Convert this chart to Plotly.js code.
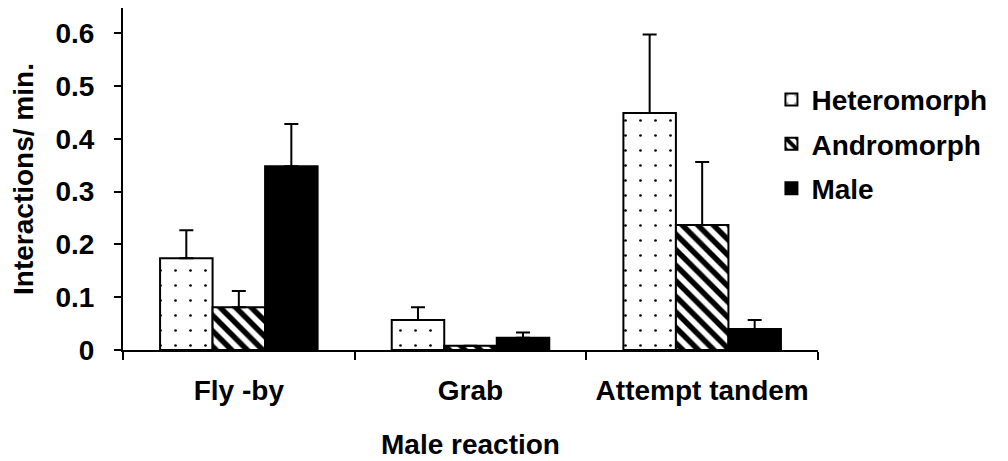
<!DOCTYPE html>
<html><head><meta charset="utf-8">
<script src="https://cdn.plot.ly/plotly-3.0.1.min.js"></script>
<style>html,body{margin:0;padding:0;background:#fff}</style>
</head><body>
<div id="chart" style="width:1008px;height:461px"></div>
<script>
const categories = ["Fly -by", "Grab", "Attempt tandem"];
const heteromorph = [0.174, 0.057, 0.449];
const heteromorphErr = [0.053, 0.024, 0.149];
const andromorph = [0.081, 0.008, 0.237];
const andromorphErr = [0.031, 0.0, 0.119];
const male = [0.348, 0.023, 0.040];
const maleErr = [0.080, 0.010, 0.017];
const yTicks = [0, 0.1, 0.2, 0.3, 0.4, 0.5, 0.6];

function errY(arr) {
  return {type: 'data', symmetric: false, array: arr, arrayminus: arr.map(() => 0),
          color: 'black', thickness: 2, width: 7};
}
const line = {color: 'black', width: 2};
const traces = [
  {type: 'bar', name: 'Heteromorph', legendgroup: 'a', x: categories, y: heteromorph, error_y: errY(heteromorphErr),
   marker: {color: 'white', line: line,
            pattern: {shape: '.', fgcolor: 'black', bgcolor: 'white', size: 15, solidity: 0.025}}},
  {type: 'bar', name: 'Andromorph', legendgroup: 'b', x: categories, y: andromorph, error_y: errY(andromorphErr),
   marker: {color: 'white', line: line,
            pattern: {shape: '\\', fgcolor: 'black', bgcolor: 'white', size: 11, solidity: 0.5}}},
  {type: 'bar', name: 'Male', legendgroup: 'c', x: categories, y: male, error_y: errY(maleErr),
   marker: {color: 'black', line: line}}
];
const font = {family: 'Liberation Sans, Arial, sans-serif', size: 28, color: 'black', weight: 'bold'};
const layout = {
  width: 1008, height: 461,
  margin: {l: 123, r: 190, t: 8, b: 111},
  paper_bgcolor: 'white', plot_bgcolor: 'white',
  font: font,
  barmode: 'group', bargap: 0.32, bargroupgap: 0,
  showlegend: true,
  legend: {x: 0.933, xanchor: 'left', y: 0.805, yanchor: 'top', font: font,
           tracegroupgap: 5, itemwidth: 30, bgcolor: 'rgba(0,0,0,0)'},
  xaxis: {
    type: 'category', showline: true, linecolor: 'black', linewidth: 2,
    ticks: 'outside', tickson: 'boundaries', ticklen: 8, tickwidth: 2, tickcolor: 'black',
    tickfont: font, showgrid: false, zeroline: false, ticklabelstandoff: 14,
    title: {text: 'Male reaction', font: font, standoff: 30}
  },
  yaxis: {
    range: [0, 0.648], tickvals: yTicks, ticktext: yTicks.map(String),
    showline: true, linecolor: 'black', linewidth: 2,
    ticks: 'outside', ticklen: 7, tickwidth: 2, tickcolor: 'black',
    tickfont: font, showgrid: false, zeroline: false, ticklabelstandoff: 14,
    title: {text: 'Interactions/ min.', font: font, standoff: 14}
  }
};
Plotly.newPlot('chart', traces, layout, {displayModeBar: false, staticPlot: true});
</script>
</body></html>
